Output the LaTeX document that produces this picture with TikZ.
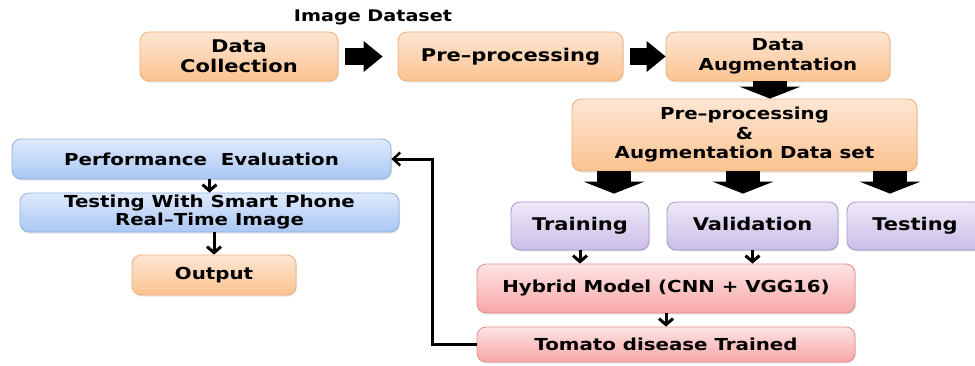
\documentclass[tikz,border=0pt]{standalone}
\usepackage{fontspec}
\setmainfont{DejaVu Sans}[FakeStretch=1.2]
\usetikzlibrary{arrows.meta,shadows}
\definecolor{otop}{HTML}{FDE6D4}
\definecolor{obot}{HTML}{FBC390}
\definecolor{oborder}{HTML}{F2AE78}
\definecolor{btop}{HTML}{DFEAFC}
\definecolor{bbot}{HTML}{A9C7F4}
\definecolor{bborder}{HTML}{8FAFDF}
\definecolor{ptop}{HTML}{EEE9F7}
\definecolor{pbot}{HTML}{CBBDE8}
\definecolor{pborder}{HTML}{A597C8}
\definecolor{rtop}{HTML}{FDE3E3}
\definecolor{rbot}{HTML}{F7A7A7}
\definecolor{rborder}{HTML}{E28E8E}
\begin{document}
\begin{tikzpicture}[x=1pt,y=-1pt,
  box/.style={rounded corners=9pt, line width=0.8pt, align=center,
    font=\bfseries\fontsize{16.5}{19.5}\selectfont, inner sep=0pt,
    drop shadow={shadow xshift=1pt, shadow yshift=-1.5pt, opacity=0.2}},
  big/.style={font=\bfseries\fontsize{17.5}{20}\selectfont},
  obox/.style={box, draw=oborder, top color=otop, bottom color=obot},
  bbox/.style={box, draw=bborder, top color=btop, bottom color=bbot},
  pbox/.style={box, draw=pborder, top color=ptop, bottom color=pbot, text height=13pt, text depth=4pt},
  rbox/.style={box, draw=rborder, top color=rtop, bottom color=rbot},
  sz/.style 2 args={minimum width=#1pt, minimum height=#2pt},
  hblk/.style={line width=17pt, -{Triangle[length=19pt,width=31pt,line width=0pt]}},
  vblk/.style={line width=34pt, -{Triangle[length=12pt,width=61pt,line width=0pt]}},
  thin/.style={line width=3pt, -{Straight Barb[length=6pt,width=14pt,line width=3pt]}},
  fb/.style={line width=3pt, -{Straight Barb[length=7pt,width=13pt,line width=2.5pt]}}
]
\useasboundingbox (0,0) rectangle (975,365);
\clip (0,0) rectangle (975,365);
\node[font=\bfseries\fontsize{16}{18}\selectfont] (lbl) at (373,17) {Image Dataset};
\node[obox, big, sz={198}{49}] (dc) at (239,56.5) {Data\\Collection};
\node[obox, big, sz={225}{49}] (pp) at (510.5,56.5) {Pre–processing};
\node[obox, sz={224}{49}] (da) at (778,56.5) {Data\\Augmentation};
\node[obox, sz={345}{72}] (pa) at (744.5,135) {Pre–processing\\\&\\Augmentation Data set};
\node[pbox, big, sz={138}{48}] (tr) at (580,226) {Training};
\node[pbox, big, sz={171}{48}] (va) at (752.5,226) {Validation};
\node[pbox, big, sz={136}{48}] (te) at (915,226) {Testing};
\node[rbox, sz={378}{49}] (hy) at (666,288.5) {Hybrid Model (CNN + VGG16)};
\node[rbox, sz={378}{35}] (tm) at (666,344.5) {Tomato disease Trained};
\node[bbox, sz={379}{40}] (pe) at (201.5,159) {Performance\ \ Evaluation};
\node[bbox, sz={379}{39}, font=\bfseries\fontsize{16.5}{18}\selectfont] (ts) at (209.5,212.5) {Testing With Smart Phone\\Real–Time Image};
\node[obox, sz={164}{40}] (op) at (214,275) {Output};
\coordinate (a0) at (770,0);
\coordinate (a1) at (614,0);
\coordinate (a2) at (743,0);
\coordinate (a3) at (890,0);
\draw[hblk, shorten <=7pt, shorten >=15pt] (dc.east) -- (pp.west);
\draw[hblk, shorten <=7pt] (pp.east) -- (da.west);
\draw[vblk] (a0 |- da.south) -- (a0 |- pa.north);
\draw[vblk, shorten >=8pt] (a1 |- pa.south) -- (a1 |- tr.north);
\draw[vblk, shorten >=8pt] (a2 |- pa.south) -- (a2 |- va.north);
\draw[vblk, shorten >=8pt] (a3 |- pa.south) -- (a3 |- te.north);
\draw[thin] (tr.south) -- (tr.south |- hy.north);
\draw[thin] (va.south) -- (va.south |- hy.north);
\draw[thin] (hy.south) -- (tm.north);
\draw[thin] (ts.north |- pe.south) -- (ts.north);
\draw[thin] (op.north |- ts.south) -- (op.north);
\draw[fb] (tm.west) -- ++(-44,0) |- (pe.east);
\end{tikzpicture}
\end{document}
